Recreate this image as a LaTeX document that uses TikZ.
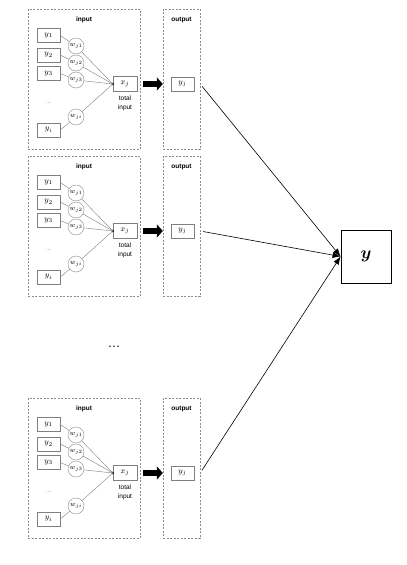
\documentclass[tikz,border=0pt]{standalone}
\usepackage{amsmath}
\usepackage{fontspec}
\setsansfont{Liberation Sans}
\usetikzlibrary{positioning,arrows.meta,calc}

\begin{document}
\begin{tikzpicture}[
  x=1pt, y=-1pt,
  font=\sffamily\fontsize{6}{7}\selectfont,
  frame/.style  = {draw=black!45, dash pattern=on 2pt off 1.5pt,
                   inner sep=0pt, minimum height=140pt},
  title/.style  = {font=\sffamily\bfseries\fontsize{6.5}{7}\selectfont},
  ybox/.style   = {draw=black!50, fill=white, inner sep=0pt,
                   minimum width=23pt, minimum height=14pt,
                   font=\fontsize{8}{9}\selectfont},
  xbox/.style   = {draw=black!50, fill=white, inner sep=0pt,
                   minimum width=24pt, minimum height=15pt,
                   font=\fontsize{8}{9}\selectfont},
  weight/.style = {draw=black!45, fill=white, circle, inner sep=0pt,
                   minimum size=16pt, font=\fontsize{7}{8}\selectfont},
  link/.style   = {draw=black!50, line width=0.4pt},
  fat/.style    = {line width=6pt, -{Triangle[length=6pt,width=13pt]},
                   shorten <=3pt},
  toY/.style    = {line width=0.6pt, -{Latex[length=8pt,width=6pt]},
                   shorten <=3pt}
]
\useasboundingbox (0,0) rectangle (407,565);

% Target node
\node[draw, line width=0.8pt, minimum width=50pt, minimum height=53pt]
  (Y) at (366,256.5) {\fontsize{18}{20}\selectfont$\boldsymbol{y}$};

% Gap between second and last block
\node (gap) at (114,347) {\fontsize{13}{15}\selectfont\ldots};

% One block per unit
\foreach \b/\t in {1/9, 2/156, 3/398} {
  % Frames
  \node[frame, minimum width=112pt] (in\b)  at (84,\t+70)    {};
  \node[frame, minimum width=37pt]  (out\b) at (181.5,\t+70) {};
  \node[title] (lin\b)  at (84,\t+11)    {input};
  \node[title] (lout\b) at (181.5,\t+11) {output};

  % Total input and output
  \node[xbox] (xj\b) at (125,\t+75) {$x_j$};
  \node[align=center, font=\sffamily\fontsize{6.5}{9}\selectfont]
    (tot\b) at (125,\t+94) {total\\input};
  \coordinate (dot\b) at (xj\b.west);
  \fill (dot\b) circle (1.4pt);
  \node[ybox] (yj\b) at (182.5,\t+75) {$y_j$};

  % Inputs and weights
  \foreach \k/\dy/\dw/\s in {1/26.5/37/1, 2/46/54/2, 3/64.5/71/3, 4/121/108/i} {
    \node[ybox]   (y\b-\k) at (48.5,\t+\dy) {$y_{\s}$};
    \node[weight] (w\b-\k) at (76,\t+\dw)   {$w_{j\s}$};
    \draw[link] (y\b-\k.east) -- (w\b-\k) -- (dot\b);
  }
  \node[text=black!50] (dd\b) at (48.5,\t+94) {\ldots};

  % Arrows
  \draw[fat] (xj\b.east -| in\b.east) -- (xj\b.east -| out\b.west);
  \draw[toY] (out\b.east |- yj\b) -- (Y.west);
}
\end{tikzpicture}
\end{document}
